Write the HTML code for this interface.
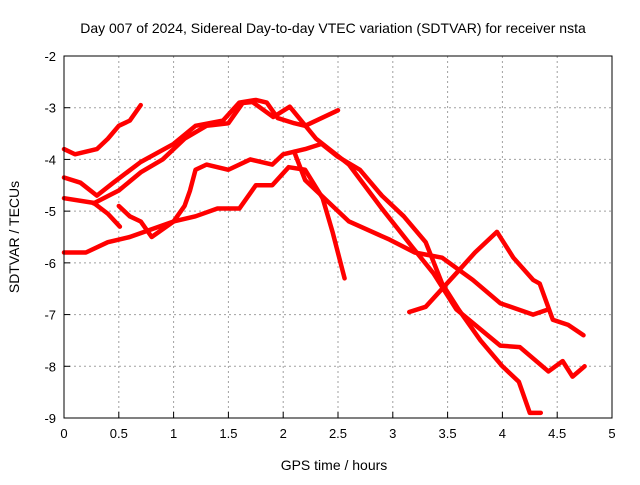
<!DOCTYPE html>
<html><head><meta charset="utf-8"><style>
body{margin:0;background:#fff;}
svg{font-family:"Liberation Sans",sans-serif;}
</style></head><body>
<svg id="chart" width="640" height="480" xmlns="http://www.w3.org/2000/svg">
<text x="333" y="33" font-size="14" text-anchor="middle">Day 007 of 2024, Sidereal Day-to-day VTEC variation (SDTVAR) for receiver nsta</text>
<text x="334" y="470" font-size="14" text-anchor="middle">GPS time / hours</text>
<text transform="translate(19,237) rotate(-90)" font-size="14" text-anchor="middle">SDTVAR / TECUs</text>
<g id="grid"></g><g id="series"></g><g id="axes"></g>
</svg>
<script>
const xTicks=[0,0.5,1,1.5,2,2.5,3,3.5,4,4.5,5];
const xTickLabels=["0","0.5","1","1.5","2","2.5","3","3.5","4","4.5","5"];
const yTicks=[-2,-3,-4,-5,-6,-7,-8,-9];
const yTickLabels=["-2","-3","-4","-5","-6","-7","-8","-9"];
const sA_x=[0,0.1,0.3,0.4,0.5,0.6,0.7];
const sA_y=[-3.8,-3.9,-3.8,-3.6,-3.35,-3.25,-2.95];
const sB_x=[0,0.15,0.3,0.45,0.7,1.0,1.2,1.45,1.6,1.75,1.85,1.95,2.1,2.2,2.35,2.5];
const sB_y=[-4.35,-4.45,-4.7,-4.45,-4.05,-3.7,-3.35,-3.25,-2.9,-2.85,-2.9,-3.2,-3.3,-3.35,-3.2,-3.05];
const sC_x=[0,0.27,0.4,0.51];
const sC_y=[-4.75,-4.84,-5.05,-5.3];
const sD_x=[0.27,0.5,0.7,0.9,1.1,1.3,1.5,1.63,1.72,1.91,2.06,2.3,2.6,2.9,3.18,3.37,3.58,3.98,4.16,4.42,4.55,4.64,4.75];
const sD_y=[-4.85,-4.6,-4.25,-4.0,-3.6,-3.35,-3.3,-2.91,-2.89,-3.18,-2.98,-3.6,-4.1,-4.95,-5.7,-6.2,-6.9,-7.6,-7.63,-8.1,-7.9,-8.2,-8.0];
const sE_x=[0,0.2,0.4,0.6,0.8,1.0,1.2,1.4,1.6,1.75,1.9,2.05,2.2,2.36,2.45,2.56];
const sE_y=[-5.8,-5.8,-5.6,-5.5,-5.35,-5.2,-5.1,-4.95,-4.95,-4.5,-4.5,-4.15,-4.2,-4.75,-5.4,-6.3];
const sF_x=[0.5,0.6,0.7,0.8,0.9,1.0,1.1,1.15,1.2,1.3,1.5,1.7,1.9,2.0,2.2,2.35,2.5,2.7,2.9,3.1,3.3,3.45,3.6,3.8,4.0,4.15,4.25,4.35];
const sF_y=[-4.9,-5.1,-5.2,-5.5,-5.35,-5.2,-4.9,-4.6,-4.2,-4.1,-4.2,-4.0,-4.1,-3.9,-3.8,-3.7,-3.95,-4.2,-4.7,-5.1,-5.6,-6.4,-6.9,-7.5,-8.0,-8.3,-8.9,-8.9];
const sG_x=[2.1,2.2,2.6,2.97,3.2,3.45,3.73,3.98,4.28,4.42];
const sG_y=[-3.85,-4.4,-5.2,-5.55,-5.8,-5.9,-6.33,-6.78,-7.0,-6.9];
const sH_x=[3.15,3.3,3.58,3.75,3.95,4.1,4.28,4.34,4.46,4.6,4.74];
const sH_y=[-6.95,-6.85,-6.2,-5.8,-5.4,-5.9,-6.33,-6.4,-7.1,-7.2,-7.4];
const seriesX=[sA_x,sB_x,sC_x,sD_x,sE_x,sF_x,sG_x,sH_x];
const seriesY=[sA_y,sB_y,sC_y,sD_y,sE_y,sF_y,sG_y,sH_y];

const L=64,R=612,T=56,B=418;
const xs=v=>L+(v-0)/(5-0)*(R-L);
const ys=v=>T+(-2-v)/(7)*(B-T);
const NS="http://www.w3.org/2000/svg";
function mk(tag,attrs,parent){const e=document.createElementNS(NS,tag);for(const k in attrs)e.setAttribute(k,attrs[k]);parent.appendChild(e);return e;}
const grid=document.getElementById('grid'),axes=document.getElementById('axes'),ser=document.getElementById('series');
xTicks.forEach((t,i)=>{
 const x=xs(t);
 if(i>0&&i<xTicks.length-1){const g=mk('line',{x1:x,x2:x,y1:T,y2:B,stroke:'#a0a0a0','stroke-dasharray':'2,3'},grid);
 
 }
 const tk=mk('line',{x1:x,x2:x,y1:B,y2:B-6,stroke:'#000'},axes);
 
 
 const tx=mk('text',{x:x,y:B+20,'font-size':13,'text-anchor':'middle'},axes);tx.textContent=xTickLabels[i];
 
 
});
yTicks.forEach((t,i)=>{
 const y=ys(t);
 if(i>0&&i<yTicks.length-1){const g=mk('line',{x1:L,x2:R,y1:y,y2:y,stroke:'#a0a0a0','stroke-dasharray':'2,3'},grid);
 
 }
 const tk=mk('line',{x1:L,x2:L+6,y1:y,y2:y,stroke:'#000'},axes);
 
 
 const tx=mk('text',{x:L-8,y:y+5,'font-size':13,'text-anchor':'end'},axes);tx.textContent=yTickLabels[i];
 
 
});
const fr=mk('rect',{x:L,y:T,width:R-L,height:B-T,fill:'none',stroke:'#000'},axes);


seriesX.forEach((xa,si)=>{
 const ya=seriesY[si];
 const pts=xa.map((v,i)=>xs(v)+','+ys(ya[i])).join(' ');
 const p=mk('polyline',{points:pts,fill:'none',stroke:'#ff0000','stroke-width':4.5,'stroke-linejoin':'round','stroke-linecap':'round'},ser);
 
 
});
</script>
</body></html>
